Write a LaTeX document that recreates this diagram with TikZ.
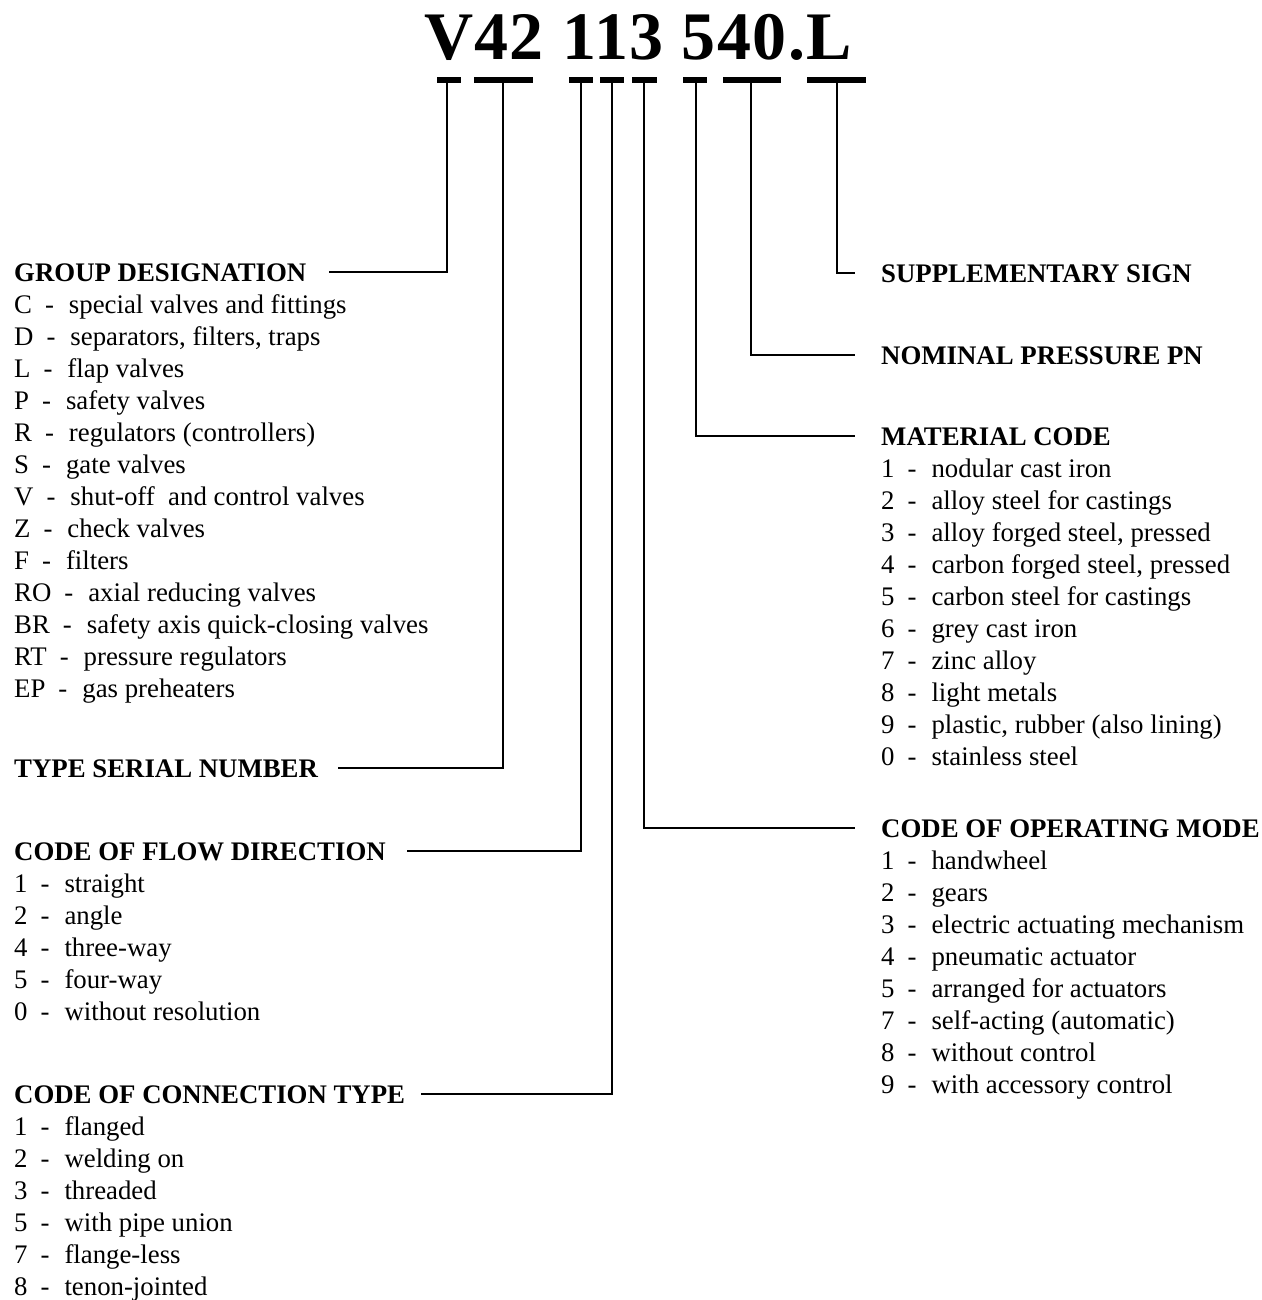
\documentclass[tikz,border=0pt]{standalone}
\usepackage{fontspec}
\setmainfont{Liberation Serif}
\newfontfamily\titlefont[LetterSpace=2.1]{Liberation Serif}
\usetikzlibrary{positioning}

% code letter, dash and meaning of one list entry
\newcommand{\codeline}[2]{#1\hspace{13pt}-\hspace{15pt}#2}

\tikzset{
  heading/.style={anchor=base west, inner sep=0pt, font=\fontsize{26.8}{30}\selectfont\bfseries},
  entry/.style={anchor=base west, inner sep=0pt, font=\fontsize{26.8}{30}\selectfont},
  lead/.style={line width=2pt},
  tbar/.style={line width=6pt}
}

\begin{document}
\begin{tikzpicture}[x=1pt,y=-1pt]
    \useasboundingbox (0,0) rectangle (1261,1300);

    % The designation itself
    \node[anchor=base, inner sep=0pt, font=\titlefont\fontsize{68}{70}\selectfont\bfseries] (title) at (638,60) {V42 113 540.L};

    % Bars under the characters
    \foreach \n/\x/\l/\r in {1/447/437/461, 2/503/474/533, 3/581/569/593, 4/612/600/624,
                             5/644/632/657, 6/696/683/707, 7/751/723/781, 8/837/807/866} {
        \coordinate (b\n) at (\x,80);
        \draw[tbar] (\l,80) -- (\r,80);
    }

    % Headings on the left
    \node[heading] (grp) at (14,281) {GROUP DESIGNATION};
    \node[heading] (ser) at (14,777) {TYPE SERIAL NUMBER};
    \node[heading] (flow) at (14,860) {CODE OF FLOW DIRECTION};
    \node[heading] (conn) at (14,1103) {CODE OF CONNECTION TYPE};

    % Headings on the right
    \node[heading] (sup) at (881,282) {SUPPLEMENTARY SIGN};
    \node[heading] (pn) at (881,364) {NOMINAL PRESSURE PN};
    \node[heading] (mat) at (881,445) {MATERIAL CODE};
    \node[heading] (mode) at (881,837) {CODE OF OPERATING MODE};

    % Leads from the bars to the headings
    \draw[lead] (b1) |- ([xshift=22pt]grp.east);
    \draw[lead] (b2) |- ([xshift=20pt]ser.east);
    \draw[lead] (b3) |- ([xshift=21pt]flow.east);
    \draw[lead] (b4) |- ([xshift=16pt]conn.east);
    \draw[lead] (b5) |- ([xshift=-26pt]mode.west);
    \draw[lead] (b6) |- ([xshift=-26pt]mat.west);
    \draw[lead] (b7) |- ([xshift=-26pt]pn.west);
    \draw[lead] (b8) |- ([xshift=-26pt]sup.west);

    % Group designation list
    \foreach \c/\t [count=\i] in {C/special valves and fittings, D/{separators, filters, traps},
            L/flap valves, P/safety valves, R/regulators (controllers), S/gate valves,
            V/shut-off\ \ and control valves, Z/check valves, F/filters, RO/axial reducing valves,
            BR/safety axis quick-closing valves, RT/pressure regulators, EP/gas preheaters}
        \node[entry] (grp\i) at (14,{281+32*\i}) {\codeline{\c}{\t}};

    % Flow direction list
    \foreach \c/\t [count=\i] in {1/straight, 2/angle, 4/three-way, 5/four-way, 0/without resolution}
        \node[entry] (flow\i) at (14,{860+32*\i}) {\codeline{\c}{\t}};

    % Connection type list
    \foreach \c/\t [count=\i] in {1/flanged, 2/welding on, 3/threaded, 5/with pipe union,
            7/flange-less, 8/tenon-jointed}
        \node[entry] (conn\i) at (14,{1103+32*\i}) {\codeline{\c}{\t}};

    % Material code list
    \foreach \c/\t [count=\i] in {1/nodular cast iron, 2/alloy steel for castings,
            3/{alloy forged steel, pressed}, 4/{carbon forged steel, pressed},
            5/carbon steel for castings, 6/grey cast iron, 7/zinc alloy, 8/light metals,
            9/{plastic, rubber (also lining)}, 0/stainless steel}
        \node[entry] (mat\i) at (881,{445+32*\i}) {\codeline{\c}{\t}};

    % Operating mode list
    \foreach \c/\t [count=\i] in {1/handwheel, 2/gears, 3/electric actuating mechanism,
            4/pneumatic actuator, 5/arranged for actuators, 7/self-acting (automatic),
            8/without control, 9/with accessory control}
        \node[entry] (mode\i) at (881,{837+32*\i}) {\codeline{\c}{\t}};
\end{tikzpicture}
\end{document}
